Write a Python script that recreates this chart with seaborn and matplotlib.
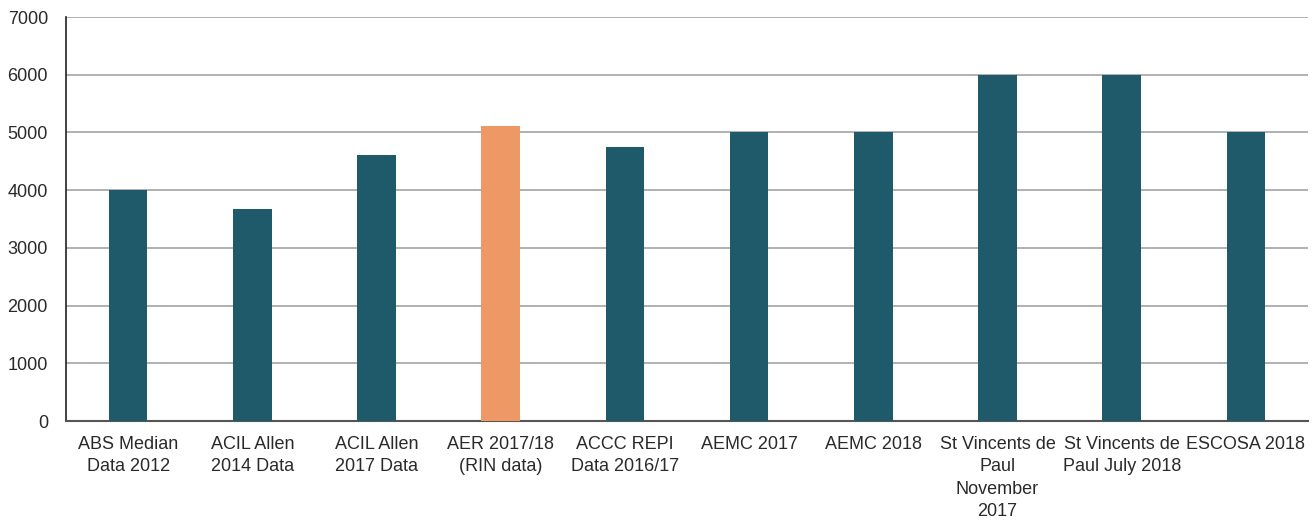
import matplotlib
matplotlib.use("Agg")
import matplotlib.pyplot as plt
import seaborn as sns
import pandas as pd

labels = ["ABS Median\nData 2012", "ACIL Allen\n2014 Data", "ACIL Allen\n2017 Data",
          "AER 2017/18\n(RIN data)", "ACCC REPI\nData 2016/17", "AEMC 2017",
          "AEMC 2018", "St Vincents de\nPaul\nNovember\n2017",
          "St Vincents de\nPaul July 2018", "ESCOSA 2018"]
values = [4000, 3670, 4610, 5110, 4740, 5000, 5000, 6000, 6000, 5000]
highlight = "AER 2017/18\n(RIN data)"

teal = "#1f5a6a"
orange = "#ee9866"

df = pd.DataFrame({"source": labels, "value": values})
palette = {l: (orange if l == highlight else teal) for l in labels}

sns.set_style("white")
plt.rcParams['font.family'] = ['Liberation Sans', 'DejaVu Sans']

fig = plt.figure(figsize=(13.14, 5.22), dpi=100)
ax = fig.add_axes([66/1314, 101/522, 1242/1314, 404/522])

sns.barplot(data=df, x="source", y="value", hue="source", palette=palette,
            width=0.31, legend=False, saturation=1, ax=ax, zorder=3,
            edgecolor="none", linewidth=0)

ax.set_ylim(0, 7000)
ax.set_xlim(-0.5, len(labels) - 0.5)
ax.set_yticks(range(0, 7001, 1000))
ax.yaxis.grid(True, color="#aaaaaa", linewidth=1.3, zorder=0)
ax.set_axisbelow(True)
ax.set_xlabel("")
ax.set_ylabel("")

for s in ["top", "right"]:
    ax.spines[s].set_visible(False)
ax.spines["left"].set_color("#222222")
ax.spines["left"].set_linewidth(1.2)
ax.spines["bottom"].set_color("#555555")
ax.spines["bottom"].set_linewidth(1.5)

ax.tick_params(axis="y", length=0, pad=13, labelsize=13, colors="#2a2a2a")
ax.tick_params(axis="x", length=0, pad=11, labelsize=13, colors="#2a2a2a")
for t in ax.get_xticklabels():
    t.set_linespacing(1.4)

fig.savefig("out.png", dpi=100)
